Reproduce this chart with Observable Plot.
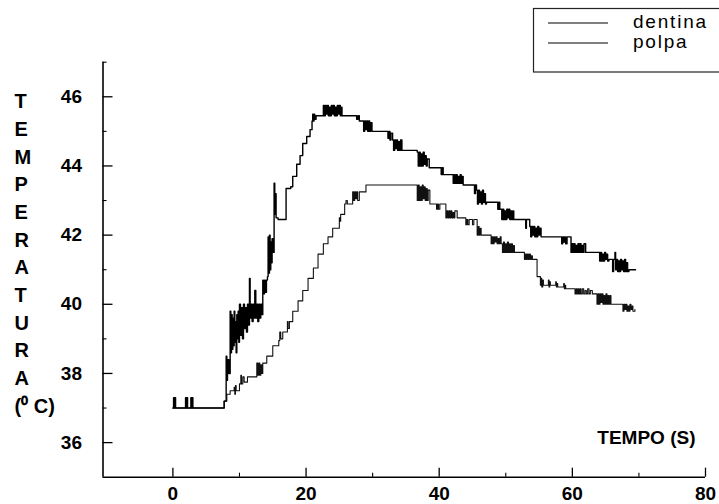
<!DOCTYPE html>
<html>
<head>
<meta charset="utf-8">
<script src="https://cdn.jsdelivr.net/npm/d3@7"></script>
<script src="https://cdn.jsdelivr.net/npm/@observablehq/plot@0.6"></script>
<style>
  html, body { margin: 0; padding: 0; background: #fff; }
  svg { display: block; }
</style>
</head>
<body>
<div id="chart"></div>
<script>
// ---- data (time in s, temperature in °C) ----
const dentina = [
  [0,37.0],[0.1,37.3],[0.2,37.0],[0.3,37.3],[0.4,37.0],
  [1.9,37.3],[2.0,37.0],[2.1,37.3],[2.2,37.0],
  [2.7,37.3],[2.8,37.0],[2.9,37.3],[3.0,37.0],
  [7.7,37.2],[8.0,38.5],[8.1,37.8],[8.2,38.4],[8.4,38.0],
  [8.6,39.8],[8.7,38.6],[8.8,39.7],[8.9,38.7],[9.0,39.6],[9.1,38.8],[9.2,39.8],[9.3,38.9],[9.4,39.5],[9.5,38.6],[9.6,39.7],[9.7,39.0],[9.8,39.8],[9.9,38.9],
  [10.0,40.0],[10.15,39.1],[10.3,39.9],[10.45,39.0],[10.6,40.0],[10.75,39.3],[10.9,39.9],[11.05,39.2],[11.2,40.0],[11.35,39.4],[11.5,40.75],[11.6,39.6],
  [11.75,40.0],[11.9,39.5],[12.05,40.0],[12.2,39.6],[12.3,40.4],[12.45,39.6],[12.6,40.0],[12.75,39.5],[12.9,40.0],[13.05,39.6],[13.2,40.0],[13.35,39.7],
  [13.5,40.7],[13.6,40.3],[13.75,40.7],[13.9,40.35],[14.05,40.7],
  [14.2,40.8],[14.3,41.95],[14.4,40.9],[14.5,42.0],[14.6,41.0],[14.7,41.8],[14.8,41.2],[14.9,41.9],[15.0,41.5],
  [15.2,43.5],[15.3,42.6],[15.4,43.2],[15.5,42.5],
  [15.8,42.45],[17.0,43.35],[17.7,43.4],[18.0,43.7],[18.6,44.05],[19.1,44.3],[19.5,44.65],[20.1,44.85],[20.6,45.05],[20.9,45.3],
  [21.0,45.5],[21.1,45.3],[21.2,45.5],[21.3,45.35],[21.5,45.45],
  [22.6,45.75],[22.75,45.45],[22.9,45.75],[23.05,45.5],[23.2,45.75],[23.35,45.45],[23.5,45.7],[23.65,45.45],[23.8,45.75],[23.95,45.5],[24.1,45.75],[24.25,45.45],[24.4,45.7],[24.55,45.45],[24.7,45.75],[24.85,45.5],[25.0,45.75],[25.15,45.45],[25.3,45.7],
  [25.4,45.45],[27.6,45.35],[27.8,45.45],[28.0,45.3],
  [28.5,45.3],[28.65,45.0],[28.8,45.3],[28.95,45.05],[29.1,45.3],[29.25,45.0],[29.4,45.3],[29.55,45.0],[29.7,45.25],
  [29.9,45.0],
  [32.3,44.8],[32.45,45.0],[32.6,44.75],[32.75,44.95],
  [33.0,44.75],[33.15,44.45],[33.3,44.75],[33.45,44.5],[33.6,44.75],[33.75,44.45],[33.9,44.7],[34.05,44.45],[34.2,44.75],
  [34.4,44.45],
  [36.7,44.4],[36.85,44.0],[37.0,44.4],[37.15,44.0],[37.3,44.35],[37.45,44.0],[37.6,44.4],[37.75,44.05],[37.9,44.3],[38.05,44.0],[38.2,44.2],
  [38.5,43.95],
  [40.3,43.75],[40.45,43.95],[40.6,43.75],
  [40.8,43.75],
  [42.1,43.5],[42.25,43.75],[42.4,43.5],[42.55,43.75],[42.7,43.5],[42.85,43.7],[43.0,43.5],[43.15,43.75],[43.3,43.5],[43.45,43.7],
  [43.6,43.45],
  [45.3,43.2],[45.45,43.45],[45.6,43.3],[45.75,42.9],[45.9,43.3],[46.05,42.95],[46.2,43.25],[46.35,42.9],[46.5,43.3],[46.65,42.95],[46.8,43.2],[46.95,42.9],
  [47.1,42.95],
  [48.8,42.75],[48.95,42.95],[49.1,42.75],
  [49.4,42.45],[49.55,42.75],[49.7,42.45],[49.85,42.7],[50.0,42.45],[50.15,42.75],[50.3,42.5],[50.45,42.75],[50.6,42.45],[50.75,42.7],[50.9,42.45],[51.05,42.7],
  [51.2,42.45],[53.0,42.2],[53.1,42.45],
  [53.6,42.25],[53.75,41.95],[53.9,42.25],[54.05,42.0],[54.2,42.25],[54.35,41.95],[54.5,42.2],[54.65,41.95],[54.8,42.25],[54.95,42.0],[55.1,42.2],
  [55.3,41.95],
  [58.4,41.75],[58.55,41.95],[58.7,41.8],[58.85,41.95],[59.0,41.75],[59.2,41.95],
  [59.8,41.5],[59.95,41.75],[60.1,41.5],[60.25,41.75],[60.4,41.5],[60.55,41.7],[60.7,41.5],[60.85,41.75],[61.0,41.5],[61.15,41.75],[61.3,41.5],[61.45,41.7],[61.6,41.5],[61.75,41.75],
  [62.0,41.5],
  [64.1,41.25],[64.25,41.5],[64.4,41.25],[64.55,41.45],[64.7,41.25],[64.85,41.5],[65.0,41.3],[65.15,41.45],[65.3,41.25],
  [65.5,41.3],
  [65.9,41.3],[66.05,40.95],[66.2,41.3],[66.4,41.5],[66.5,41.0],[66.65,41.3],[66.8,40.95],[66.95,41.25],[67.1,40.95],[67.25,41.3],[67.4,41.0],[67.55,41.25],[67.7,40.95],[67.85,41.3],[68.0,40.95],[68.15,41.2],[68.3,40.95],
  [68.5,41.0],[69.5,41.0]
];

const polpa = [
  [0,37.0],[7.7,37.2],[8.1,37.4],[8.6,37.5],
  [9.2,37.6],[9.3,37.4],[9.4,37.65],[9.5,37.5],
  [10.0,37.7],[10.2,37.95],[10.3,37.7],[10.5,37.9],[10.7,37.75],
  [11.2,37.9],
  [12.6,38.3],[12.75,37.95],[12.9,38.3],[13.05,37.95],[13.2,38.25],[13.35,38.0],
  [13.5,38.3],[14.1,38.5],[15.0,38.8],
  [15.9,38.95],[16.05,39.2],[16.2,39.0],[16.5,39.2],
  [17.2,39.5],[17.3,39.3],[17.5,39.5],
  [18.0,39.8],[18.8,40.1],[19.5,40.4],[20.3,40.75],[21.1,41.05],[21.8,41.45],[22.6,41.75],[23.3,41.95],[24.0,42.2],
  [25.0,42.5],[25.1,42.4],[25.2,42.6],
  [25.8,42.9],[26.0,43.0],[26.2,42.9],
  [27.0,43.25],[27.15,43.0],[27.3,43.25],[27.45,43.05],[27.6,43.25],[27.75,43.0],[28.0,43.25],
  [29.0,43.45],
  [36.7,43.0],[36.85,43.45],[37.0,43.0],[37.15,43.4],[37.3,43.0],[37.45,43.45],[37.6,43.05],[37.75,43.4],[37.9,43.0],[38.05,43.35],[38.2,43.0],[38.35,43.3],
  [38.6,42.9],
  [39.6,42.75],[39.75,42.9],[39.9,42.75],[40.1,42.9],
  [41.0,42.5],[41.15,42.7],[41.3,42.5],[41.45,42.7],[41.6,42.5],[41.75,42.7],[41.9,42.5],[42.05,42.65],[42.2,42.5],[42.35,42.7],
  [42.7,42.5],
  [44.0,42.3],[44.15,42.45],[44.3,42.3],[44.5,42.45],[45.0,42.3],[45.2,42.45],
  [45.7,42.0],[45.85,42.25],[46.0,42.0],[46.15,42.2],
  [46.3,42.0],
  [47.8,41.75],[47.95,41.95],[48.1,41.75],[48.25,41.95],[48.4,41.8],[48.55,41.95],[48.7,41.75],[48.85,41.9],[49.0,41.75],[49.15,41.95],[49.3,41.75],
  [49.5,41.5],[49.65,41.8],[49.8,41.5],[49.95,41.75],[50.1,41.5],[50.25,41.8],[50.4,41.5],[50.55,41.75],[50.7,41.5],[50.85,41.75],[51.0,41.5],[51.15,41.7],
  [51.3,41.5],
  [52.8,41.3],[52.95,41.45],[53.1,41.3],[53.25,41.45],[53.4,41.3],[53.55,41.45],[53.7,41.3],[53.85,41.4],
  [54.0,41.3],
  [54.7,40.8],
  [55.2,40.55],[55.3,40.75],[55.4,40.5],[55.55,40.7],[55.65,40.55],[56.3,40.55],[56.4,40.7],[56.5,40.5],[56.6,40.65],[56.7,40.55],
  [57.4,40.55],[57.5,40.65],[57.6,40.5],[57.7,40.6],[57.8,40.5],[58.6,40.5],[58.7,40.6],[58.8,40.45],[58.9,40.55],[59.0,40.45],
  [59.6,40.45],
  [60.4,40.3],[60.55,40.45],[60.7,40.3],[60.85,40.45],[61.0,40.3],[61.15,40.45],[61.3,40.3],[61.5,40.45],[61.7,40.3],[61.9,40.4],[62.1,40.3],[62.3,40.45],[62.5,40.3],[62.7,40.4],
  [63.0,40.3],
  [63.7,40.0],[63.85,40.3],[64.0,40.0],[64.15,40.3],[64.3,40.05],[64.45,40.3],[64.6,40.0],[64.75,40.25],[64.9,40.0],[65.05,40.3],[65.2,40.0],[65.35,40.25],[65.5,40.0],[65.65,40.25],[65.8,40.0],
  [66.0,40.0],
  [67.6,39.8],[67.75,40.0],[67.9,39.85],[68.05,40.0],[68.2,39.8],[68.35,39.95],[68.5,39.8],[68.65,40.0],[68.8,39.85],[68.95,39.95],[69.1,39.8],
  [69.4,39.85]
];

const xMajor = [0, 20, 40, 60, 80];
const xMinor = [10, 30, 50, 70];
const yMajor = [36, 38, 40, 42, 44, 46];
const yMinor = [37, 39, 41, 43, 45, 47];
const xDomain = [-10.5, 80];
const yDomain = [35, 47];
const yTitleLetters = ["T","E","M","P","E","R","A","T","U","R","A","(\u2070 C)"];
const xTitle = "TEMPO (S)";
const seriesNames = ["dentina", "polpa"];

const FONT = "Liberation Sans, Arial, Helvetica, sans-serif";
const W = 719, H = 504;
const mL = 102.5, mR = 14, mT = 61.7, mB = 27.3;
// tick lengths in data units (derived from pixel lengths and scale)
const yPerPx = (yDomain[1] - yDomain[0]) / (H - mT - mB);
const xPerPx = (xDomain[1] - xDomain[0]) / (W - mL - mR);

const fig = Plot.plot({
  width: W, height: H,
  marginLeft: mL, marginRight: mR, marginTop: mT, marginBottom: mB,
  style: {fontFamily: FONT, background: "#fff", overflow: "visible"},
  x: {domain: xDomain, axis: null},
  y: {domain: yDomain, axis: null},
  marks: [
    // axis lines
    Plot.ruleX([xDomain[0]], {stroke: "#000", strokeWidth: 1.6}),
    Plot.ruleY([yDomain[0]], {stroke: "#000", strokeWidth: 1.6}),
    // inward ticks
    Plot.ruleX(xMajor, {x: d => d, y1: yDomain[0], y2: yDomain[0] + 9 * yPerPx, stroke: "#000", strokeWidth: 1.3}),
    Plot.ruleX(xMinor, {x: d => d, y1: yDomain[0], y2: yDomain[0] + 4 * yPerPx, stroke: "#000", strokeWidth: 1.1}),
    Plot.ruleY(yMajor, {y: d => d, x1: xDomain[0], x2: xDomain[0] + 10 * xPerPx, stroke: "#000", strokeWidth: 1.3}),
    Plot.ruleY(yMinor, {y: d => d, x1: xDomain[0], x2: xDomain[0] + 4 * xPerPx, stroke: "#000", strokeWidth: 1.1}),
    // tick labels
    Plot.text(xMajor, {x: d => d, frameAnchor: "bottom", lineAnchor: "top", dy: 9, text: d => String(d),
      fontSize: 19, fontWeight: "bold", fill: "#000"}),
    Plot.text(yMajor, {y: d => d, frameAnchor: "left", textAnchor: "end", dx: -21, text: d => String(d),
      fontSize: 19, fontWeight: "bold", fill: "#000"}),
    // series
    Plot.line(polpa, {x: d => d[0], y: d => d[1], curve: "step-after", stroke: "#111", strokeWidth: 1.1}),
    Plot.line(dentina, {x: d => d[0], y: d => d[1], curve: "step-after", stroke: "#000", strokeWidth: 1.4}),
    // axis titles
    Plot.text([yTitleLetters.join("\n")], {text: d => d, frameAnchor: "top-left", textAnchor: "start", lineAnchor: "top",
      dx: 14 - mL, dy: 88 - mT, lineHeight: 27.7 / 20, fontSize: 20, fontWeight: "bold", fill: "#000"}),
    Plot.text([xTitle], {text: d => d, frameAnchor: "bottom-right", textAnchor: "end", lineAnchor: "bottom",
      dx: 695 - (W - mR), dy: 443 - (H - mB), fontSize: 19, fontWeight: "bold", fill: "#000",
      style: "letter-spacing: 1.8px"})
  ]
});

// legend box (overlaid at top right)
const svg = d3.select(fig);
const lg = svg.append("g").attr("font-family", FONT).attr("text-anchor", "start");
lg.append("rect").attr("x", 533.5).attr("y", 8.5).attr("width", 200).attr("height", 63.5)
  .attr("fill", "#fff").attr("stroke", "#222").attr("stroke-width", 1.2);
const legendRows = [{name: seriesNames[0], y: 23, base: 28}, {name: seriesNames[1], y: 43, base: 48}];
legendRows.forEach(r => {
  lg.append("line").attr("x1", 548).attr("x2", 608).attr("y1", r.y).attr("y2", r.y)
    .attr("stroke", "#000").attr("stroke-width", 1.2);
  lg.append("text").attr("x", 633).attr("y", r.base).attr("font-size", 19).attr("fill", "#000")
    .attr("letter-spacing", "1.8px").attr("text-anchor", "start").text(r.name);
});

document.getElementById("chart").appendChild(fig);
</script>
</body>
</html>
